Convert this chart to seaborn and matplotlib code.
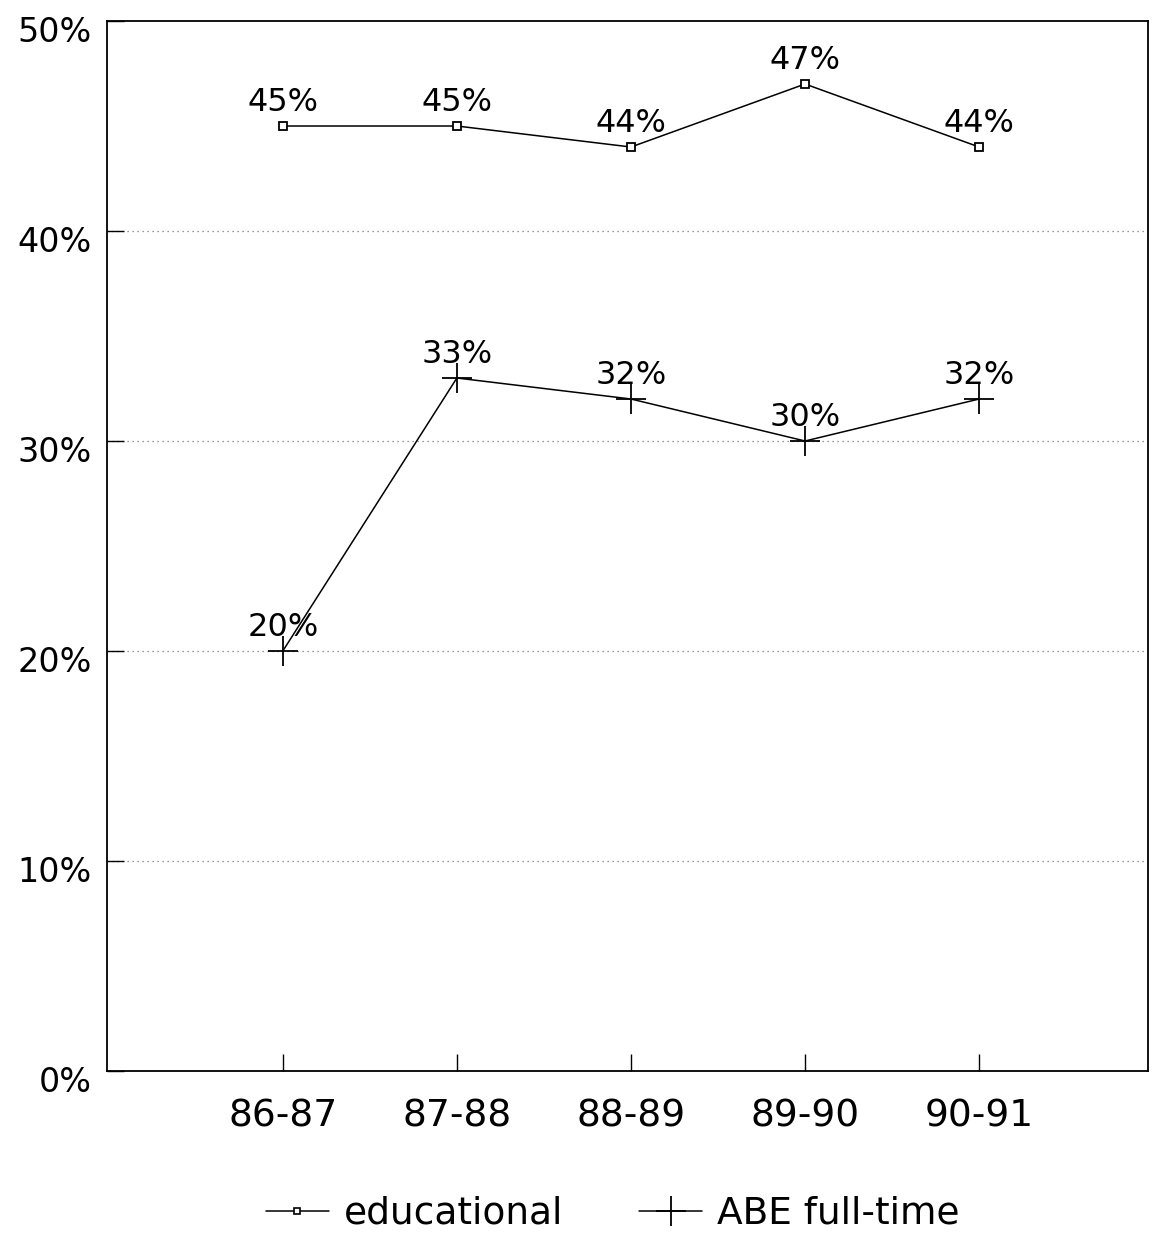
import pandas as pd
import numpy as np
import seaborn as sns
import matplotlib.pyplot as plt
import matplotlib.transforms as mtransforms
from matplotlib.lines import Line2D

years = ['86-87', '87-88', '88-89', '89-90', '90-91']
educational = [45, 45, 44, 47, 44]
abe_full = [20, 33, 32, 30, 32]
series_names = ['educational', 'ABE full-time']

sns.set_style('white')
plt.rcParams['font.family'] = ['DejaVu Sans']
plt.rcParams['text.color'] = 'black'
plt.rcParams['xtick.color'] = 'black'
plt.rcParams['ytick.color'] = 'black'

fig = plt.figure(figsize=(11.54, 12.36), dpi=100)
ax = fig.add_axes([0.0927, 0.1335, 0.9021, 0.8495])

# two calls, seaborn won't mix a filled and a line-art marker in one style map
sns.lineplot(x=years, y=educational, color='black', linewidth=1.1, marker='s', markersize=6,
             markerfacecolor='white', markeredgecolor='black', markeredgewidth=1.3, sort=False, ax=ax)
sns.lineplot(x=years, y=abe_full, color='black', linewidth=1.1, marker='+', markersize=21,
             markeredgecolor='black', markeredgewidth=1.3, sort=False, ax=ax)

for i, y in enumerate(educational):
    ax.annotate(f'{y}%', (i, y), xytext=(0, 11), textcoords='offset points',
                ha='center', va='baseline', fontsize=23)
for i, y in enumerate(abe_full):
    ax.annotate(f'{y}%', (i, y), xytext=(0, 11), textcoords='offset points',
                ha='center', va='baseline', fontsize=23)

ax.set_ylim(0, 50)
ax.set_xlim(-1.01, 4.97)
ax.set_yticks([0, 10, 20, 30, 40, 50])
ax.set_yticklabels(['0%', '10%', '20%', '30%', '40%', '50%'], fontsize=24)
ax.set_xticks(range(len(years)))
ax.set_xticklabels(years, fontsize=27)
ax.tick_params(axis='y', direction='in', length=12, width=1, pad=11, left=True)
ax.tick_params(axis='x', direction='in', length=12, width=1, pad=20, bottom=True)
ax.set_xlabel('')
ax.set_ylabel('')

# y labels sit a little below their ticks in the original
shift = mtransforms.ScaledTranslation(0, -6 / 72, fig.dpi_scale_trans)
for lab in ax.get_yticklabels():
    lab.set_transform(lab.get_transform() + shift)

for y in [10, 20, 30, 40]:
    ax.axhline(y, color='#777777', linestyle=(0, (1, 3)), linewidth=0.9, zorder=0)

for s in ax.spines.values():
    s.set_color('black')
    s.set_linewidth(1.3)

handles = [
    Line2D([], [], color='black', lw=1.1, marker='s', markersize=5, markerfacecolor='white', markeredgewidth=1.2),
    Line2D([], [], color='black', lw=1.1, marker='+', markersize=21, markeredgewidth=1.3),
]
fig.legend(handles, series_names, loc='center', bbox_to_anchor=(0.531, 0.018), ncol=2, frameon=False,
           fontsize=27, handlelength=1.7, handletextpad=0.4, columnspacing=2.0)

fig.savefig('out.png', dpi=100)
